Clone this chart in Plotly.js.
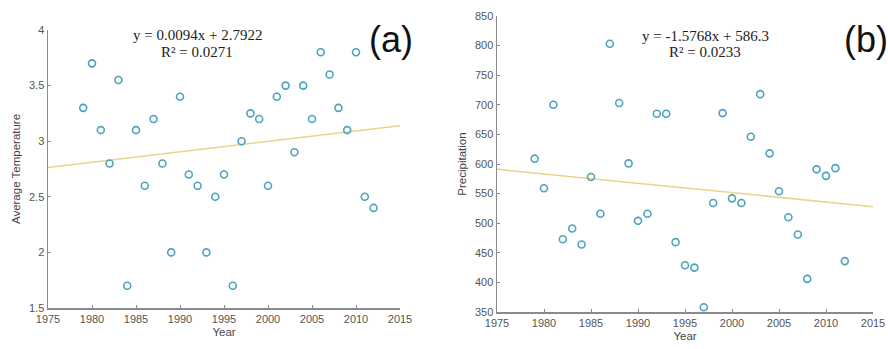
<!DOCTYPE html>
<html>
<head>
<meta charset="utf-8">
<script src="https://cdn.plot.ly/plotly-3.0.1.min.js"></script>
<style>html,body{margin:0;padding:0;background:#fff;}#chart{width:888px;height:349px;}</style>
</head>
<body>
<div id="chart"></div>
<script>
const years = [1979,1980,1981,1982,1983,1984,1985,1986,1987,1988,1989,1990,1991,1992,1993,1994,1995,1996,1997,1998,1999,2000,2001,2002,2003,2004,2005,2006,2007,2008,2009,2010,2011,2012];
const temperature = [3.3,3.7,3.1,2.8,3.55,1.7,3.1,2.6,3.2,2.8,2.0,3.4,2.7,2.6,2.0,2.5,2.7,1.7,3.0,3.25,3.2,2.6,3.4,3.5,2.9,3.5,3.2,3.8,3.6,3.3,3.1,3.8,2.5,2.4];
const precipitation = [609,559,700,473,491,464,578,516,803,703,601,504,516,685,685,468,429,425,358,534,686,542,534,646,718,618,554,510,481,406,591,580,593,436];
const tempFit = {slope: 0.0094, intercept: 2.7922, text: "y = 0.0094x + 2.7922", r2: "R² = 0.0271"};
const precFit = {slope: -1.5768, intercept: 586.3, text: "y = -1.5768x + 586.3", r2: "R² = 0.0233"};
const xTicks = [1975,1980,1985,1990,1995,2000,2005,2010,2015];
const tempTicks = [1.5,2,2.5,3,3.5,4];
const precTicks = [350,400,450,500,550,600,650,700,750,800,850];
const baseYear = 1978; // fit x = year - baseYear

const W = 888, H = 349;
function fitLine(fit){
  const xs = [1975, 2015];
  return {x: xs, y: xs.map(v => fit.intercept + fit.slope*(v - baseYear))};
}
const markerStyle = {symbol:'circle-open', size:7, color:'#4da3bd', line:{width:1.6, color:'#4da3bd'}};
const lineStyle = {color:'#e6d590', width:1.5};

const t1 = fitLine(tempFit), t2 = fitLine(precFit);
const data = [
  {x:t1.x, y:t1.y, type:'scatter', mode:'lines', line:lineStyle, xaxis:'x', yaxis:'y', hoverinfo:'skip'},
  {x:years, y:temperature, type:'scatter', mode:'markers', marker:markerStyle, xaxis:'x', yaxis:'y'},
  {x:t2.x, y:t2.y, type:'scatter', mode:'lines', line:lineStyle, xaxis:'x2', yaxis:'y2', hoverinfo:'skip'},
  {x:years, y:precipitation, type:'scatter', mode:'markers', marker:markerStyle, xaxis:'x2', yaxis:'y2'}
];

const tickFont = {family:'Liberation Sans, Arial, sans-serif', size:11, color:'#555'};
const titleFont = {family:'Liberation Sans, Arial, sans-serif', size:11.5, color:'#444'};
const eqFont = {family:'Liberation Serif, Times New Roman, serif', size:15, color:'#222'};
const labFont = {family:'Liberation Sans, Arial, sans-serif', size:36, color:'#111'};
const axCommon = {
  showgrid:false, zeroline:false, showline:true, linecolor:'#8a8a8a', linewidth:1.5,
  ticks:'inside', ticklen:3, tickcolor:'#8a8a8a', tickwidth:1, tickfont:tickFont, mirror:false
};
function px(x){return x/W;}
function py(y){return 1 - y/H;}

const layout = {
  width:W, height:H, margin:{l:0,r:0,t:0,b:0}, showlegend:false,
  paper_bgcolor:'#fff', plot_bgcolor:'#fff',
  xaxis: Object.assign({}, axCommon, {domain:[px(48), px(400)], range:[1975,2015], tickvals:xTicks, anchor:'y',
    title:{text:'Year', font:titleFont, standoff:4}}),
  yaxis: Object.assign({}, axCommon, {domain:[py(308), py(30)], range:[1.5,4], tickvals:tempTicks, anchor:'x',
    title:{text:'Average Temperature', font:titleFont, standoff:6}}),
  xaxis2: Object.assign({}, axCommon, {domain:[px(497), px(873)], range:[1975,2015], tickvals:xTicks, anchor:'y2',
    title:{text:'Year', font:titleFont, standoff:4}}),
  yaxis2: Object.assign({}, axCommon, {domain:[py(312), py(16)], range:[350,850], tickvals:precTicks, anchor:'x2',
    title:{text:'Precipitation', font:titleFont, standoff:6}}),
  annotations: [
    {xref:'paper', yref:'paper', x:px(197), y:py(35), text:tempFit.text, showarrow:false, xanchor:'center', yanchor:'middle', font:eqFont},
    {xref:'paper', yref:'paper', x:px(197), y:py(52), text:tempFit.r2, showarrow:false, xanchor:'center', yanchor:'middle', font:eqFont},
    {xref:'paper', yref:'paper', x:px(705), y:py(36), text:precFit.text, showarrow:false, xanchor:'center', yanchor:'middle', font:eqFont},
    {xref:'paper', yref:'paper', x:px(705), y:py(52), text:precFit.r2, showarrow:false, xanchor:'center', yanchor:'middle', font:eqFont},
    {xref:'paper', yref:'paper', x:px(391), y:py(39), text:'(a)', showarrow:false, xanchor:'center', yanchor:'middle', font:labFont},
    {xref:'paper', yref:'paper', x:px(866), y:py(39), text:'(b)', showarrow:false, xanchor:'center', yanchor:'middle', font:labFont}
  ]
};
Plotly.newPlot('chart', data, layout, {displayModeBar:false, staticPlot:true});
</script>
</body>
</html>
